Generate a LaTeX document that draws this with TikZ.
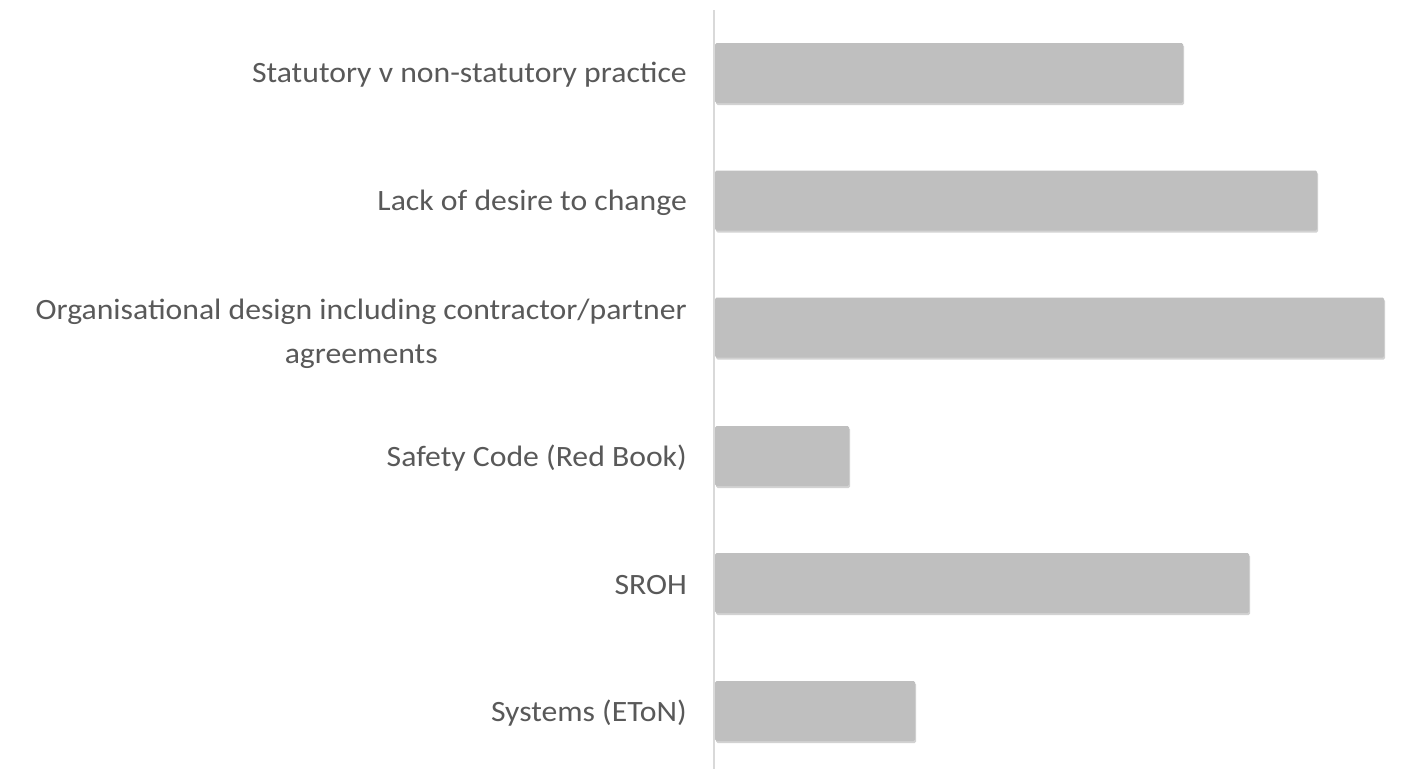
\documentclass[tikz,border=0pt]{standalone}
\usepackage{fontspec}
\setmainfont{Carlito}[FakeStretch=1.075]
\usetikzlibrary{positioning, shadows}
\definecolor{bargray}{HTML}{BFBFBF}
\definecolor{labelgray}{HTML}{595959}
\definecolor{axisgray}{HTML}{D9D9D9}

\begin{document}
\begin{tikzpicture}[x=1pt, y=1pt, node distance=28pt]
\tikzstyle{bar} = [rectangle, rounded corners=1.5pt, fill=bargray, anchor=west,
                   minimum height=60pt, inner sep=0pt,
                   drop shadow={opacity=0.35, shadow xshift=1pt, shadow yshift=-2pt}]
\tikzstyle{lbl} = [text=labelgray, font=\fontsize{29.5}{44}\selectfont,
                   inner sep=0pt, align=center]

\useasboundingbox[fill=white] (0,0) rectangle (1409,-769);

% axis
\coordinate (axtop) at (714,-10);
\coordinate (axbot) at (714,-769);
\draw[axisgray, line width=1.2pt] (axtop) -- (axbot);

% bars
\node[bar, minimum width=468pt] (stat) at (715,-73) {};
\node[bar, minimum width=602pt] (desire) at (715,-200.5) {};
\node[bar, minimum width=669pt] (org) at (715,-327.5) {};
\node[bar, minimum width=134pt] (safety) at (715,-456) {};
\node[bar, minimum width=534pt] (sroh) at (715,-583) {};
\node[bar, minimum width=200pt] (eton) at (715,-711) {};

% labels
\node[lbl, left=of stat.west, yshift=-2pt] (statlbl) {Statutory v non-statutory practice};
\node[lbl, left=of desire.west, yshift=-2pt] (desirelbl) {Lack of desire to change};
\node[lbl, left=of org.west, yshift=-6pt] (orglbl) {Organisational design including contractor/partner\\agreements};
\node[lbl, left=of safety.west, yshift=-2pt] (safetylbl) {Safety Code (Red Book)};
\node[lbl, left=of sroh.west, yshift=-2pt] (srohlbl) {SROH};
\node[lbl, left=of eton.west, yshift=-2pt] (etonlbl) {Systems (EToN)};
\end{tikzpicture}
\end{document}
